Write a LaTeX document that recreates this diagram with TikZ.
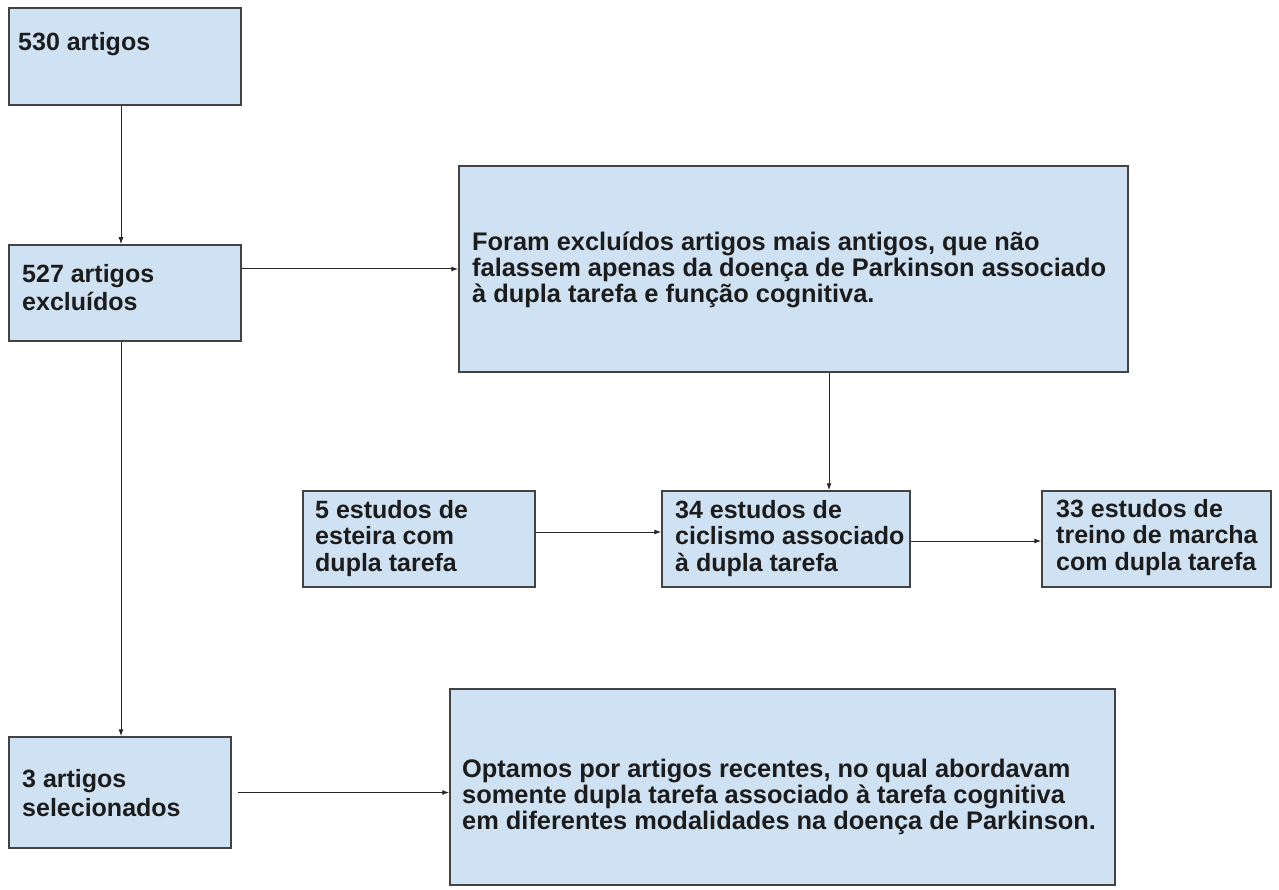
\documentclass[tikz,border=0pt]{standalone}
\usepackage{fontspec}
\setmainfont{Liberation Sans}
\usetikzlibrary{arrows.meta}
\definecolor{boxfill}{HTML}{CFE2F3}
\definecolor{boxline}{HTML}{434343}
\definecolor{txt}{HTML}{1C1C1C}
\begin{document}
\begin{tikzpicture}[x=1pt,y=-1pt,
  box/.style={draw=boxline, fill=boxfill, line width=1.5pt, rectangle, inner sep=0pt},
  lbl/.style={anchor=base west, inner sep=0pt, align=left, text=txt},
  arr/.style={draw=black!85, line width=1pt, -{Latex[length=7pt,width=5pt]}}]
\useasboundingbox[fill=white] (0,0) rectangle (1279,890);
% boxes
\node[box, minimum width=232pt, minimum height=97pt] (a) at (125,56.5) {};
\node[box, minimum width=232pt, minimum height=96pt] (b) at (125,293) {};
\node[box, minimum width=669pt, minimum height=206pt] (c) at (793.5,269) {};
\node[box, minimum width=232pt, minimum height=96pt] (d) at (419,539) {};
\node[box, minimum width=248pt, minimum height=96pt] (e) at (786,539) {};
\node[box, minimum width=229pt, minimum height=96pt] (f) at (1156.5,539) {};
\node[box, minimum width=222pt, minimum height=111pt] (g) at (120,792.5) {};
\node[box, minimum width=665pt, minimum height=196pt] (h) at (782.5,787) {};
% connectors
\coordinate (ax) at (121,0);
\coordinate (cx) at (829,0);
\draw[arr] (a.south -| ax) -- (b.north -| ax);
\draw[arr] (b.south -| ax) -- (g.north -| ax);
\draw[arr] (b.east |- c.west) -- (c.west);
\draw[arr] (c.south -| cx) -- (e.north -| cx);
\draw[arr] ([yshift=7pt]d.east) -- ([yshift=7pt]e.west);
\draw[arr] ([yshift=-2pt]e.east) -- ([yshift=-2pt]f.west);
\draw[arr] ([xshift=6pt]g.east) -- (g.east -| h.west);
% texts (anchor = baseline of last line)
\node[lbl, font=\bfseries\fontsize{25}{26}\selectfont] (at) at (18,51) {530 artigos};
\node[lbl, font=\bfseries\fontsize{25}{28}\selectfont] (bt) at (22,311) {527 artigos\\excluídos};
\node[lbl, font=\bfseries\fontsize{25.4}{26}\selectfont] (ct) at (472,303) {Foram excluídos artigos mais antigos, que não\\falassem apenas da doença de Parkinson associado\\à dupla tarefa e função cognitiva.};
\node[lbl, font=\bfseries\fontsize{25}{26.5}\selectfont] (dt) at (315,571) {5 estudos de\\esteira com\\dupla tarefa};
\node[lbl, font=\bfseries\fontsize{25}{26.5}\selectfont] (et) at (675,571) {34 estudos de\\ciclismo associado\\à dupla tarefa};
\node[lbl, font=\bfseries\fontsize{25}{26.5}\selectfont] (ft) at (1056,570) {33 estudos de\\treino de marcha\\com dupla tarefa};
\node[lbl, font=\bfseries\fontsize{25}{29}\selectfont] (gt) at (22,816) {3 artigos\\selecionados};
\node[lbl, font=\bfseries\fontsize{25.4}{26}\selectfont] (ht) at (462,829) {Optamos por artigos recentes, no qual abordavam\\somente dupla tarefa associado à tarefa cognitiva\\em diferentes modalidades na doença de Parkinson.};
\end{tikzpicture}
\end{document}
